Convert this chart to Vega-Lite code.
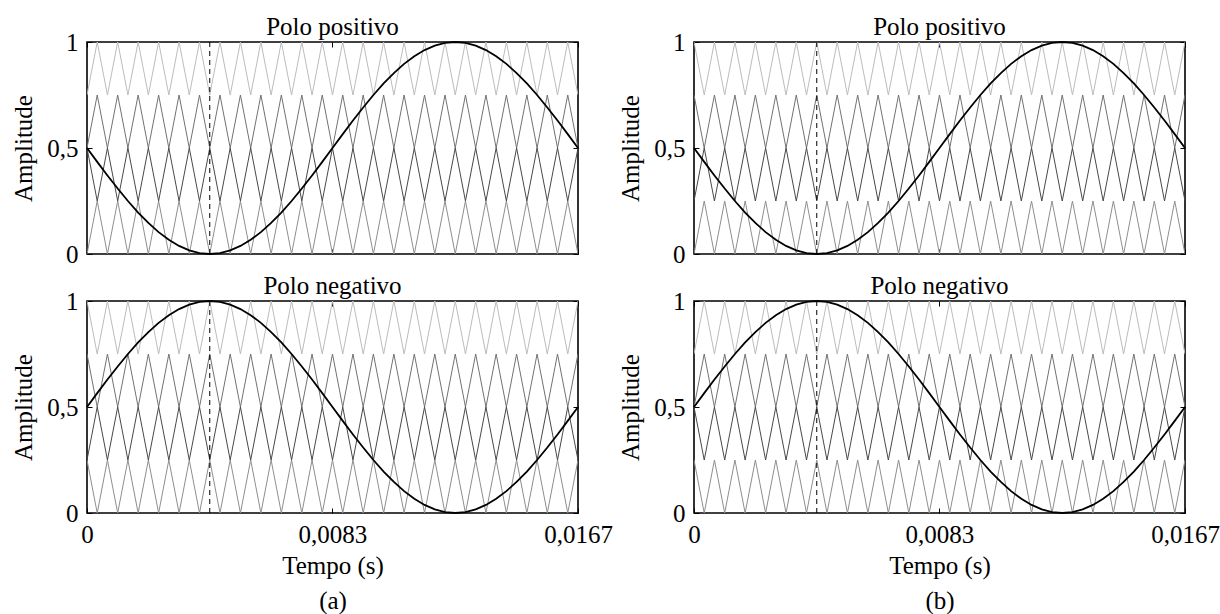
{
"$schema": "https://vega.github.io/schema/vega-lite/v6.json",
"background": "white",
"padding": {"left": 10, "top": 14, "right": 0, "bottom": 0},
"config": {
  "font": "Liberation Serif, Times New Roman, serif",
  "view": {"stroke": "#000", "strokeWidth": 1.6},
  "axis": {"labelFont": "Liberation Serif, Times New Roman, serif", "labelFontSize": 25, "labelColor": "#000", "titleFont": "Liberation Serif, Times New Roman, serif", "titleFontSize": 25, "titleFontWeight": "normal", "titleColor": "#000", "grid": false, "domain": false, "tickColor": "#000", "tickWidth": 1, "tickSize": -5, "labelFlush": false, "labelOverlap": false, "labelPadding": 14},
  "axisY": {"titlePadding": 10},
  "axisX": {"titlePadding": 6, "titleLineHeight": 35},
  "title": {"font": "Liberation Serif, Times New Roman, serif", "fontSize": 25, "fontWeight": "normal", "color": "#000", "offset": -10, "baseline": "alphabetic", "frame": "group"}
},
"datasets": {
"mk": [{"t": 0.004167}],
"ref": [
{"s":"pos","t":0,"y":0.5},{"s":"pos","t":0.000347,"y":0.4347},{"s":"pos","t":0.000694,"y":0.3706},{"s":"pos","t":0.001042,"y":0.3087},{"s":"pos","t":0.001389,"y":0.25},{"s":"pos","t":0.001736,"y":0.1956},{"s":"pos","t":0.002083,"y":0.1464},{"s":"pos","t":0.002431,"y":0.1033},{"s":"pos","t":0.002778,"y":0.067},{"s":"pos","t":0.003125,"y":0.0381},{"s":"pos","t":0.003472,"y":0.017},{"s":"pos","t":0.003819,"y":0.0043},{"s":"pos","t":0.004167,"y":0},{"s":"pos","t":0.004514,"y":0.0043},{"s":"pos","t":0.004861,"y":0.017},{"s":"pos","t":0.005208,"y":0.0381},{"s":"pos","t":0.005556,"y":0.067},{"s":"pos","t":0.005903,"y":0.1033},{"s":"pos","t":0.00625,"y":0.1464},{"s":"pos","t":0.006597,"y":0.1956},{"s":"pos","t":0.006944,"y":0.25},{"s":"pos","t":0.007292,"y":0.3087},{"s":"pos","t":0.007639,"y":0.3706},{"s":"pos","t":0.007986,"y":0.4347},{"s":"pos","t":0.008333,"y":0.5},{"s":"pos","t":0.008681,"y":0.5653},{"s":"pos","t":0.009028,"y":0.6294},{"s":"pos","t":0.009375,"y":0.6913},{"s":"pos","t":0.009722,"y":0.75},{"s":"pos","t":0.010069,"y":0.8044},{"s":"pos","t":0.010417,"y":0.8536},{"s":"pos","t":0.010764,"y":0.8967},{"s":"pos","t":0.011111,"y":0.933},{"s":"pos","t":0.011458,"y":0.9619},{"s":"pos","t":0.011806,"y":0.983},{"s":"pos","t":0.012153,"y":0.9957},{"s":"pos","t":0.0125,"y":1},{"s":"pos","t":0.012847,"y":0.9957},{"s":"pos","t":0.013194,"y":0.983},{"s":"pos","t":0.013542,"y":0.9619},{"s":"pos","t":0.013889,"y":0.933},{"s":"pos","t":0.014236,"y":0.8967},{"s":"pos","t":0.014583,"y":0.8536},{"s":"pos","t":0.014931,"y":0.8044},{"s":"pos","t":0.015278,"y":0.75},{"s":"pos","t":0.015625,"y":0.6913},{"s":"pos","t":0.015972,"y":0.6294},{"s":"pos","t":0.016319,"y":0.5653},{"s":"pos","t":0.016667,"y":0.5},
{"s":"neg","t":0,"y":0.5},{"s":"neg","t":0.000347,"y":0.5653},{"s":"neg","t":0.000694,"y":0.6294},{"s":"neg","t":0.001042,"y":0.6913},{"s":"neg","t":0.001389,"y":0.75},{"s":"neg","t":0.001736,"y":0.8044},{"s":"neg","t":0.002083,"y":0.8536},{"s":"neg","t":0.002431,"y":0.8967},{"s":"neg","t":0.002778,"y":0.933},{"s":"neg","t":0.003125,"y":0.9619},{"s":"neg","t":0.003472,"y":0.983},{"s":"neg","t":0.003819,"y":0.9957},{"s":"neg","t":0.004167,"y":1},{"s":"neg","t":0.004514,"y":0.9957},{"s":"neg","t":0.004861,"y":0.983},{"s":"neg","t":0.005208,"y":0.9619},{"s":"neg","t":0.005556,"y":0.933},{"s":"neg","t":0.005903,"y":0.8967},{"s":"neg","t":0.00625,"y":0.8536},{"s":"neg","t":0.006597,"y":0.8044},{"s":"neg","t":0.006944,"y":0.75},{"s":"neg","t":0.007292,"y":0.6913},{"s":"neg","t":0.007639,"y":0.6294},{"s":"neg","t":0.007986,"y":0.5653},{"s":"neg","t":0.008333,"y":0.5},{"s":"neg","t":0.008681,"y":0.4347},{"s":"neg","t":0.009028,"y":0.3706},{"s":"neg","t":0.009375,"y":0.3087},{"s":"neg","t":0.009722,"y":0.25},{"s":"neg","t":0.010069,"y":0.1956},{"s":"neg","t":0.010417,"y":0.1464},{"s":"neg","t":0.010764,"y":0.1033},{"s":"neg","t":0.011111,"y":0.067},{"s":"neg","t":0.011458,"y":0.0381},{"s":"neg","t":0.011806,"y":0.017},{"s":"neg","t":0.012153,"y":0.0043},{"s":"neg","t":0.0125,"y":0},{"s":"neg","t":0.012847,"y":0.0043},{"s":"neg","t":0.013194,"y":0.017},{"s":"neg","t":0.013542,"y":0.0381},{"s":"neg","t":0.013889,"y":0.067},{"s":"neg","t":0.014236,"y":0.1033},{"s":"neg","t":0.014583,"y":0.1464},{"s":"neg","t":0.014931,"y":0.1956},{"s":"neg","t":0.015278,"y":0.25},{"s":"neg","t":0.015625,"y":0.3087},{"s":"neg","t":0.015972,"y":0.3706},{"s":"neg","t":0.016319,"y":0.4347},{"s":"neg","t":0.016667,"y":0.5}
],
"car": [
{"s":"4o","t":0,"y":0.75},{"s":"4o","t":0.000347,"y":1},{"s":"4o","t":0.000694,"y":0.75},{"s":"4o","t":0.001042,"y":1},{"s":"4o","t":0.001389,"y":0.75},{"s":"4o","t":0.001736,"y":1},{"s":"4o","t":0.002083,"y":0.75},{"s":"4o","t":0.002431,"y":1},{"s":"4o","t":0.002778,"y":0.75},{"s":"4o","t":0.003125,"y":1},{"s":"4o","t":0.003472,"y":0.75},{"s":"4o","t":0.003819,"y":1},{"s":"4o","t":0.004167,"y":0.75},{"s":"4o","t":0.004514,"y":1},{"s":"4o","t":0.004861,"y":0.75},{"s":"4o","t":0.005208,"y":1},{"s":"4o","t":0.005556,"y":0.75},{"s":"4o","t":0.005903,"y":1},{"s":"4o","t":0.00625,"y":0.75},{"s":"4o","t":0.006597,"y":1},{"s":"4o","t":0.006944,"y":0.75},{"s":"4o","t":0.007292,"y":1},{"s":"4o","t":0.007639,"y":0.75},{"s":"4o","t":0.007986,"y":1},{"s":"4o","t":0.008333,"y":0.75},{"s":"4o","t":0.008681,"y":1},{"s":"4o","t":0.009028,"y":0.75},{"s":"4o","t":0.009375,"y":1},{"s":"4o","t":0.009722,"y":0.75},{"s":"4o","t":0.010069,"y":1},{"s":"4o","t":0.010417,"y":0.75},{"s":"4o","t":0.010764,"y":1},{"s":"4o","t":0.011111,"y":0.75},{"s":"4o","t":0.011458,"y":1},{"s":"4o","t":0.011806,"y":0.75},{"s":"4o","t":0.012153,"y":1},{"s":"4o","t":0.0125,"y":0.75},{"s":"4o","t":0.012847,"y":1},{"s":"4o","t":0.013194,"y":0.75},{"s":"4o","t":0.013542,"y":1},{"s":"4o","t":0.013889,"y":0.75},{"s":"4o","t":0.014236,"y":1},{"s":"4o","t":0.014583,"y":0.75},{"s":"4o","t":0.014931,"y":1},{"s":"4o","t":0.015278,"y":0.75},{"s":"4o","t":0.015625,"y":1},{"s":"4o","t":0.015972,"y":0.75},{"s":"4o","t":0.016319,"y":1},{"s":"4o","t":0.016667,"y":0.75},
{"s":"4e","t":0,"y":1},{"s":"4e","t":0.000347,"y":0.75},{"s":"4e","t":0.000694,"y":1},{"s":"4e","t":0.001042,"y":0.75},{"s":"4e","t":0.001389,"y":1},{"s":"4e","t":0.001736,"y":0.75},{"s":"4e","t":0.002083,"y":1},{"s":"4e","t":0.002431,"y":0.75},{"s":"4e","t":0.002778,"y":1},{"s":"4e","t":0.003125,"y":0.75},{"s":"4e","t":0.003472,"y":1},{"s":"4e","t":0.003819,"y":0.75},{"s":"4e","t":0.004167,"y":1},{"s":"4e","t":0.004514,"y":0.75},{"s":"4e","t":0.004861,"y":1},{"s":"4e","t":0.005208,"y":0.75},{"s":"4e","t":0.005556,"y":1},{"s":"4e","t":0.005903,"y":0.75},{"s":"4e","t":0.00625,"y":1},{"s":"4e","t":0.006597,"y":0.75},{"s":"4e","t":0.006944,"y":1},{"s":"4e","t":0.007292,"y":0.75},{"s":"4e","t":0.007639,"y":1},{"s":"4e","t":0.007986,"y":0.75},{"s":"4e","t":0.008333,"y":1},{"s":"4e","t":0.008681,"y":0.75},{"s":"4e","t":0.009028,"y":1},{"s":"4e","t":0.009375,"y":0.75},{"s":"4e","t":0.009722,"y":1},{"s":"4e","t":0.010069,"y":0.75},{"s":"4e","t":0.010417,"y":1},{"s":"4e","t":0.010764,"y":0.75},{"s":"4e","t":0.011111,"y":1},{"s":"4e","t":0.011458,"y":0.75},{"s":"4e","t":0.011806,"y":1},{"s":"4e","t":0.012153,"y":0.75},{"s":"4e","t":0.0125,"y":1},{"s":"4e","t":0.012847,"y":0.75},{"s":"4e","t":0.013194,"y":1},{"s":"4e","t":0.013542,"y":0.75},{"s":"4e","t":0.013889,"y":1},{"s":"4e","t":0.014236,"y":0.75},{"s":"4e","t":0.014583,"y":1},{"s":"4e","t":0.014931,"y":0.75},{"s":"4e","t":0.015278,"y":1},{"s":"4e","t":0.015625,"y":0.75},{"s":"4e","t":0.015972,"y":1},{"s":"4e","t":0.016319,"y":0.75},{"s":"4e","t":0.016667,"y":1},
{"s":"3o","t":0,"y":0.5},{"s":"3o","t":0.000347,"y":0.75},{"s":"3o","t":0.000694,"y":0.5},{"s":"3o","t":0.001042,"y":0.75},{"s":"3o","t":0.001389,"y":0.5},{"s":"3o","t":0.001736,"y":0.75},{"s":"3o","t":0.002083,"y":0.5},{"s":"3o","t":0.002431,"y":0.75},{"s":"3o","t":0.002778,"y":0.5},{"s":"3o","t":0.003125,"y":0.75},{"s":"3o","t":0.003472,"y":0.5},{"s":"3o","t":0.003819,"y":0.75},{"s":"3o","t":0.004167,"y":0.5},{"s":"3o","t":0.004514,"y":0.75},{"s":"3o","t":0.004861,"y":0.5},{"s":"3o","t":0.005208,"y":0.75},{"s":"3o","t":0.005556,"y":0.5},{"s":"3o","t":0.005903,"y":0.75},{"s":"3o","t":0.00625,"y":0.5},{"s":"3o","t":0.006597,"y":0.75},{"s":"3o","t":0.006944,"y":0.5},{"s":"3o","t":0.007292,"y":0.75},{"s":"3o","t":0.007639,"y":0.5},{"s":"3o","t":0.007986,"y":0.75},{"s":"3o","t":0.008333,"y":0.5},{"s":"3o","t":0.008681,"y":0.75},{"s":"3o","t":0.009028,"y":0.5},{"s":"3o","t":0.009375,"y":0.75},{"s":"3o","t":0.009722,"y":0.5},{"s":"3o","t":0.010069,"y":0.75},{"s":"3o","t":0.010417,"y":0.5},{"s":"3o","t":0.010764,"y":0.75},{"s":"3o","t":0.011111,"y":0.5},{"s":"3o","t":0.011458,"y":0.75},{"s":"3o","t":0.011806,"y":0.5},{"s":"3o","t":0.012153,"y":0.75},{"s":"3o","t":0.0125,"y":0.5},{"s":"3o","t":0.012847,"y":0.75},{"s":"3o","t":0.013194,"y":0.5},{"s":"3o","t":0.013542,"y":0.75},{"s":"3o","t":0.013889,"y":0.5},{"s":"3o","t":0.014236,"y":0.75},{"s":"3o","t":0.014583,"y":0.5},{"s":"3o","t":0.014931,"y":0.75},{"s":"3o","t":0.015278,"y":0.5},{"s":"3o","t":0.015625,"y":0.75},{"s":"3o","t":0.015972,"y":0.5},{"s":"3o","t":0.016319,"y":0.75},{"s":"3o","t":0.016667,"y":0.5},
{"s":"3e","t":0,"y":0.75},{"s":"3e","t":0.000347,"y":0.5},{"s":"3e","t":0.000694,"y":0.75},{"s":"3e","t":0.001042,"y":0.5},{"s":"3e","t":0.001389,"y":0.75},{"s":"3e","t":0.001736,"y":0.5},{"s":"3e","t":0.002083,"y":0.75},{"s":"3e","t":0.002431,"y":0.5},{"s":"3e","t":0.002778,"y":0.75},{"s":"3e","t":0.003125,"y":0.5},{"s":"3e","t":0.003472,"y":0.75},{"s":"3e","t":0.003819,"y":0.5},{"s":"3e","t":0.004167,"y":0.75},{"s":"3e","t":0.004514,"y":0.5},{"s":"3e","t":0.004861,"y":0.75},{"s":"3e","t":0.005208,"y":0.5},{"s":"3e","t":0.005556,"y":0.75},{"s":"3e","t":0.005903,"y":0.5},{"s":"3e","t":0.00625,"y":0.75},{"s":"3e","t":0.006597,"y":0.5},{"s":"3e","t":0.006944,"y":0.75},{"s":"3e","t":0.007292,"y":0.5},{"s":"3e","t":0.007639,"y":0.75},{"s":"3e","t":0.007986,"y":0.5},{"s":"3e","t":0.008333,"y":0.75},{"s":"3e","t":0.008681,"y":0.5},{"s":"3e","t":0.009028,"y":0.75},{"s":"3e","t":0.009375,"y":0.5},{"s":"3e","t":0.009722,"y":0.75},{"s":"3e","t":0.010069,"y":0.5},{"s":"3e","t":0.010417,"y":0.75},{"s":"3e","t":0.010764,"y":0.5},{"s":"3e","t":0.011111,"y":0.75},{"s":"3e","t":0.011458,"y":0.5},{"s":"3e","t":0.011806,"y":0.75},{"s":"3e","t":0.012153,"y":0.5},{"s":"3e","t":0.0125,"y":0.75},{"s":"3e","t":0.012847,"y":0.5},{"s":"3e","t":0.013194,"y":0.75},{"s":"3e","t":0.013542,"y":0.5},{"s":"3e","t":0.013889,"y":0.75},{"s":"3e","t":0.014236,"y":0.5},{"s":"3e","t":0.014583,"y":0.75},{"s":"3e","t":0.014931,"y":0.5},{"s":"3e","t":0.015278,"y":0.75},{"s":"3e","t":0.015625,"y":0.5},{"s":"3e","t":0.015972,"y":0.75},{"s":"3e","t":0.016319,"y":0.5},{"s":"3e","t":0.016667,"y":0.75},
{"s":"2o","t":0,"y":0.25},{"s":"2o","t":0.000347,"y":0.5},{"s":"2o","t":0.000694,"y":0.25},{"s":"2o","t":0.001042,"y":0.5},{"s":"2o","t":0.001389,"y":0.25},{"s":"2o","t":0.001736,"y":0.5},{"s":"2o","t":0.002083,"y":0.25},{"s":"2o","t":0.002431,"y":0.5},{"s":"2o","t":0.002778,"y":0.25},{"s":"2o","t":0.003125,"y":0.5},{"s":"2o","t":0.003472,"y":0.25},{"s":"2o","t":0.003819,"y":0.5},{"s":"2o","t":0.004167,"y":0.25},{"s":"2o","t":0.004514,"y":0.5},{"s":"2o","t":0.004861,"y":0.25},{"s":"2o","t":0.005208,"y":0.5},{"s":"2o","t":0.005556,"y":0.25},{"s":"2o","t":0.005903,"y":0.5},{"s":"2o","t":0.00625,"y":0.25},{"s":"2o","t":0.006597,"y":0.5},{"s":"2o","t":0.006944,"y":0.25},{"s":"2o","t":0.007292,"y":0.5},{"s":"2o","t":0.007639,"y":0.25},{"s":"2o","t":0.007986,"y":0.5},{"s":"2o","t":0.008333,"y":0.25},{"s":"2o","t":0.008681,"y":0.5},{"s":"2o","t":0.009028,"y":0.25},{"s":"2o","t":0.009375,"y":0.5},{"s":"2o","t":0.009722,"y":0.25},{"s":"2o","t":0.010069,"y":0.5},{"s":"2o","t":0.010417,"y":0.25},{"s":"2o","t":0.010764,"y":0.5},{"s":"2o","t":0.011111,"y":0.25},{"s":"2o","t":0.011458,"y":0.5},{"s":"2o","t":0.011806,"y":0.25},{"s":"2o","t":0.012153,"y":0.5},{"s":"2o","t":0.0125,"y":0.25},{"s":"2o","t":0.012847,"y":0.5},{"s":"2o","t":0.013194,"y":0.25},{"s":"2o","t":0.013542,"y":0.5},{"s":"2o","t":0.013889,"y":0.25},{"s":"2o","t":0.014236,"y":0.5},{"s":"2o","t":0.014583,"y":0.25},{"s":"2o","t":0.014931,"y":0.5},{"s":"2o","t":0.015278,"y":0.25},{"s":"2o","t":0.015625,"y":0.5},{"s":"2o","t":0.015972,"y":0.25},{"s":"2o","t":0.016319,"y":0.5},{"s":"2o","t":0.016667,"y":0.25},
{"s":"2e","t":0,"y":0.5},{"s":"2e","t":0.000347,"y":0.25},{"s":"2e","t":0.000694,"y":0.5},{"s":"2e","t":0.001042,"y":0.25},{"s":"2e","t":0.001389,"y":0.5},{"s":"2e","t":0.001736,"y":0.25},{"s":"2e","t":0.002083,"y":0.5},{"s":"2e","t":0.002431,"y":0.25},{"s":"2e","t":0.002778,"y":0.5},{"s":"2e","t":0.003125,"y":0.25},{"s":"2e","t":0.003472,"y":0.5},{"s":"2e","t":0.003819,"y":0.25},{"s":"2e","t":0.004167,"y":0.5},{"s":"2e","t":0.004514,"y":0.25},{"s":"2e","t":0.004861,"y":0.5},{"s":"2e","t":0.005208,"y":0.25},{"s":"2e","t":0.005556,"y":0.5},{"s":"2e","t":0.005903,"y":0.25},{"s":"2e","t":0.00625,"y":0.5},{"s":"2e","t":0.006597,"y":0.25},{"s":"2e","t":0.006944,"y":0.5},{"s":"2e","t":0.007292,"y":0.25},{"s":"2e","t":0.007639,"y":0.5},{"s":"2e","t":0.007986,"y":0.25},{"s":"2e","t":0.008333,"y":0.5},{"s":"2e","t":0.008681,"y":0.25},{"s":"2e","t":0.009028,"y":0.5},{"s":"2e","t":0.009375,"y":0.25},{"s":"2e","t":0.009722,"y":0.5},{"s":"2e","t":0.010069,"y":0.25},{"s":"2e","t":0.010417,"y":0.5},{"s":"2e","t":0.010764,"y":0.25},{"s":"2e","t":0.011111,"y":0.5},{"s":"2e","t":0.011458,"y":0.25},{"s":"2e","t":0.011806,"y":0.5},{"s":"2e","t":0.012153,"y":0.25},{"s":"2e","t":0.0125,"y":0.5},{"s":"2e","t":0.012847,"y":0.25},{"s":"2e","t":0.013194,"y":0.5},{"s":"2e","t":0.013542,"y":0.25},{"s":"2e","t":0.013889,"y":0.5},{"s":"2e","t":0.014236,"y":0.25},{"s":"2e","t":0.014583,"y":0.5},{"s":"2e","t":0.014931,"y":0.25},{"s":"2e","t":0.015278,"y":0.5},{"s":"2e","t":0.015625,"y":0.25},{"s":"2e","t":0.015972,"y":0.5},{"s":"2e","t":0.016319,"y":0.25},{"s":"2e","t":0.016667,"y":0.5},
{"s":"1o","t":0,"y":0},{"s":"1o","t":0.000347,"y":0.25},{"s":"1o","t":0.000694,"y":0},{"s":"1o","t":0.001042,"y":0.25},{"s":"1o","t":0.001389,"y":0},{"s":"1o","t":0.001736,"y":0.25},{"s":"1o","t":0.002083,"y":0},{"s":"1o","t":0.002431,"y":0.25},{"s":"1o","t":0.002778,"y":0},{"s":"1o","t":0.003125,"y":0.25},{"s":"1o","t":0.003472,"y":0},{"s":"1o","t":0.003819,"y":0.25},{"s":"1o","t":0.004167,"y":0},{"s":"1o","t":0.004514,"y":0.25},{"s":"1o","t":0.004861,"y":0},{"s":"1o","t":0.005208,"y":0.25},{"s":"1o","t":0.005556,"y":0},{"s":"1o","t":0.005903,"y":0.25},{"s":"1o","t":0.00625,"y":0},{"s":"1o","t":0.006597,"y":0.25},{"s":"1o","t":0.006944,"y":0},{"s":"1o","t":0.007292,"y":0.25},{"s":"1o","t":0.007639,"y":0},{"s":"1o","t":0.007986,"y":0.25},{"s":"1o","t":0.008333,"y":0},{"s":"1o","t":0.008681,"y":0.25},{"s":"1o","t":0.009028,"y":0},{"s":"1o","t":0.009375,"y":0.25},{"s":"1o","t":0.009722,"y":0},{"s":"1o","t":0.010069,"y":0.25},{"s":"1o","t":0.010417,"y":0},{"s":"1o","t":0.010764,"y":0.25},{"s":"1o","t":0.011111,"y":0},{"s":"1o","t":0.011458,"y":0.25},{"s":"1o","t":0.011806,"y":0},{"s":"1o","t":0.012153,"y":0.25},{"s":"1o","t":0.0125,"y":0},{"s":"1o","t":0.012847,"y":0.25},{"s":"1o","t":0.013194,"y":0},{"s":"1o","t":0.013542,"y":0.25},{"s":"1o","t":0.013889,"y":0},{"s":"1o","t":0.014236,"y":0.25},{"s":"1o","t":0.014583,"y":0},{"s":"1o","t":0.014931,"y":0.25},{"s":"1o","t":0.015278,"y":0},{"s":"1o","t":0.015625,"y":0.25},{"s":"1o","t":0.015972,"y":0},{"s":"1o","t":0.016319,"y":0.25},{"s":"1o","t":0.016667,"y":0},
{"s":"1e","t":0,"y":0.25},{"s":"1e","t":0.000347,"y":0},{"s":"1e","t":0.000694,"y":0.25},{"s":"1e","t":0.001042,"y":0},{"s":"1e","t":0.001389,"y":0.25},{"s":"1e","t":0.001736,"y":0},{"s":"1e","t":0.002083,"y":0.25},{"s":"1e","t":0.002431,"y":0},{"s":"1e","t":0.002778,"y":0.25},{"s":"1e","t":0.003125,"y":0},{"s":"1e","t":0.003472,"y":0.25},{"s":"1e","t":0.003819,"y":0},{"s":"1e","t":0.004167,"y":0.25},{"s":"1e","t":0.004514,"y":0},{"s":"1e","t":0.004861,"y":0.25},{"s":"1e","t":0.005208,"y":0},{"s":"1e","t":0.005556,"y":0.25},{"s":"1e","t":0.005903,"y":0},{"s":"1e","t":0.00625,"y":0.25},{"s":"1e","t":0.006597,"y":0},{"s":"1e","t":0.006944,"y":0.25},{"s":"1e","t":0.007292,"y":0},{"s":"1e","t":0.007639,"y":0.25},{"s":"1e","t":0.007986,"y":0},{"s":"1e","t":0.008333,"y":0.25},{"s":"1e","t":0.008681,"y":0},{"s":"1e","t":0.009028,"y":0.25},{"s":"1e","t":0.009375,"y":0},{"s":"1e","t":0.009722,"y":0.25},{"s":"1e","t":0.010069,"y":0},{"s":"1e","t":0.010417,"y":0.25},{"s":"1e","t":0.010764,"y":0},{"s":"1e","t":0.011111,"y":0.25},{"s":"1e","t":0.011458,"y":0},{"s":"1e","t":0.011806,"y":0.25},{"s":"1e","t":0.012153,"y":0},{"s":"1e","t":0.0125,"y":0.25},{"s":"1e","t":0.012847,"y":0},{"s":"1e","t":0.013194,"y":0.25},{"s":"1e","t":0.013542,"y":0},{"s":"1e","t":0.013889,"y":0.25},{"s":"1e","t":0.014236,"y":0},{"s":"1e","t":0.014583,"y":0.25},{"s":"1e","t":0.014931,"y":0},{"s":"1e","t":0.015278,"y":0.25},{"s":"1e","t":0.015625,"y":0},{"s":"1e","t":0.015972,"y":0.25},{"s":"1e","t":0.016319,"y":0},{"s":"1e","t":0.016667,"y":0.25}
]
},
"spacing": 3,
"hconcat": [
{"vconcat": [
 {"width": 491, "height": 212, "title": "Polo positivo", "resolve": {"axis": {"x": "independent", "y": "independent"}},
  "layer": [
   {"data": {"name": "car"}, "transform": [{"filter": {"field": "s", "oneOf": ["4o","3o","2e","1o"]}}],
    "mark": {"type": "line", "strokeWidth": 1, "clip": true},
    "encoding": {
     "x": {"field": "t", "type": "quantitative", "scale": {"domain": [0, 0.016667], "nice": false, "zero": false}, "axis": {"orient": "bottom", "values": [0, 0.008333, 0.016667], "labels": false, "title": null, "minExtent": 0, "maxExtent": 0}},
     "y": {"field": "y", "type": "quantitative", "scale": {"domain": [0, 1], "nice": false}, "axis": {"orient": "left", "values": [0, 0.5, 1], "labelExpr": "datum.value == 0 ? '0' : datum.value == 1 ? '1' : '0,5'", "title": "Amplitude"}},
     "color": {"field": "s", "type": "nominal", "scale": {"domain": ["4o","4e","3o","3e","2o","2e","1o","1e"], "range": ["#bcbcbc","#bcbcbc","#727272","#727272","#484848","#484848","#8e8e8e","#8e8e8e"]}, "legend": null}}},
   {"data": {"name": "mk"}, "mark": {"type": "rule", "color": "#000", "strokeWidth": 1, "strokeDash": [5, 4]},
    "encoding": {"x": {"field": "t", "type": "quantitative", "axis": null}}},
   {"data": {"name": "ref"}, "transform": [{"filter": {"field": "s", "equal": "pos"}}],
    "mark": {"type": "line", "color": "#000", "strokeWidth": 1.8},
    "encoding": {
     "x": {"field": "t", "type": "quantitative", "axis": {"orient": "top", "values": [0, 0.008333, 0.016667], "labels": false, "title": null, "minExtent": 0, "maxExtent": 0}},
     "y": {"field": "y", "type": "quantitative", "axis": {"orient": "right", "values": [0, 0.5, 1], "labels": false, "title": null, "minExtent": 0, "maxExtent": 0}}}}
  ]},
 {"width": 491, "height": 212, "title": "Polo negativo", "resolve": {"axis": {"x": "independent", "y": "independent"}},
  "layer": [
   {"data": {"name": "car"}, "transform": [{"filter": {"field": "s", "oneOf": ["4e","3e","2o","1e"]}}],
    "mark": {"type": "line", "strokeWidth": 1, "clip": true},
    "encoding": {
     "x": {"field": "t", "type": "quantitative", "scale": {"domain": [0, 0.016667], "nice": false, "zero": false}, "axis": {"orient": "bottom", "values": [0, 0.008333, 0.016667], "labelExpr": "datum.value == 0 ? '0' : datum.value < 0.01 ? '0,0083' : '0,0167'", "title": ["Tempo (s)", "(a)"]}},
     "y": {"field": "y", "type": "quantitative", "scale": {"domain": [0, 1], "nice": false}, "axis": {"orient": "left", "values": [0, 0.5, 1], "labelExpr": "datum.value == 0 ? '0' : datum.value == 1 ? '1' : '0,5'", "title": "Amplitude"}},
     "color": {"field": "s", "type": "nominal", "scale": {"domain": ["4o","4e","3o","3e","2o","2e","1o","1e"], "range": ["#bcbcbc","#bcbcbc","#727272","#727272","#484848","#484848","#8e8e8e","#8e8e8e"]}, "legend": null}}},
   {"data": {"name": "mk"}, "mark": {"type": "rule", "color": "#000", "strokeWidth": 1, "strokeDash": [5, 4]},
    "encoding": {"x": {"field": "t", "type": "quantitative", "axis": null}}},
   {"data": {"name": "ref"}, "transform": [{"filter": {"field": "s", "equal": "neg"}}],
    "mark": {"type": "line", "color": "#000", "strokeWidth": 1.8},
    "encoding": {
     "x": {"field": "t", "type": "quantitative", "axis": {"orient": "top", "values": [0, 0.008333, 0.016667], "labels": false, "title": null, "minExtent": 0, "maxExtent": 0}},
     "y": {"field": "y", "type": "quantitative", "axis": {"orient": "right", "values": [0, 0.5, 1], "labels": false, "title": null, "minExtent": 0, "maxExtent": 0}}}}
  ]}
], "spacing": 5},
{"vconcat": [
 {"width": 491, "height": 212, "title": "Polo positivo", "resolve": {"axis": {"x": "independent", "y": "independent"}},
  "layer": [
   {"data": {"name": "car"}, "transform": [{"filter": {"field": "s", "oneOf": ["4e","3e","2o","1o"]}}],
    "mark": {"type": "line", "strokeWidth": 1, "clip": true},
    "encoding": {
     "x": {"field": "t", "type": "quantitative", "scale": {"domain": [0, 0.016667], "nice": false, "zero": false}, "axis": {"orient": "bottom", "values": [0, 0.008333, 0.016667], "labels": false, "title": null, "minExtent": 0, "maxExtent": 0}},
     "y": {"field": "y", "type": "quantitative", "scale": {"domain": [0, 1], "nice": false}, "axis": {"orient": "left", "values": [0, 0.5, 1], "labelExpr": "datum.value == 0 ? '0' : datum.value == 1 ? '1' : '0,5'", "title": "Amplitude"}},
     "color": {"field": "s", "type": "nominal", "scale": {"domain": ["4o","4e","3o","3e","2o","2e","1o","1e"], "range": ["#bcbcbc","#bcbcbc","#727272","#727272","#484848","#484848","#8e8e8e","#8e8e8e"]}, "legend": null}}},
   {"data": {"name": "mk"}, "mark": {"type": "rule", "color": "#000", "strokeWidth": 1, "strokeDash": [5, 4]},
    "encoding": {"x": {"field": "t", "type": "quantitative", "axis": null}}},
   {"data": {"name": "ref"}, "transform": [{"filter": {"field": "s", "equal": "pos"}}],
    "mark": {"type": "line", "color": "#000", "strokeWidth": 1.8},
    "encoding": {
     "x": {"field": "t", "type": "quantitative", "axis": {"orient": "top", "values": [0, 0.008333, 0.016667], "labels": false, "title": null, "minExtent": 0, "maxExtent": 0}},
     "y": {"field": "y", "type": "quantitative", "axis": {"orient": "right", "values": [0, 0.5, 1], "labels": false, "title": null, "minExtent": 0, "maxExtent": 0}}}}
  ]},
 {"width": 491, "height": 212, "title": "Polo negativo", "resolve": {"axis": {"x": "independent", "y": "independent"}},
  "layer": [
   {"data": {"name": "car"}, "transform": [{"filter": {"field": "s", "oneOf": ["4o","3o","2e","1e"]}}],
    "mark": {"type": "line", "strokeWidth": 1, "clip": true},
    "encoding": {
     "x": {"field": "t", "type": "quantitative", "scale": {"domain": [0, 0.016667], "nice": false, "zero": false}, "axis": {"orient": "bottom", "values": [0, 0.008333, 0.016667], "labelExpr": "datum.value == 0 ? '0' : datum.value < 0.01 ? '0,0083' : '0,0167'", "title": ["Tempo (s)", "(b)"]}},
     "y": {"field": "y", "type": "quantitative", "scale": {"domain": [0, 1], "nice": false}, "axis": {"orient": "left", "values": [0, 0.5, 1], "labelExpr": "datum.value == 0 ? '0' : datum.value == 1 ? '1' : '0,5'", "title": "Amplitude"}},
     "color": {"field": "s", "type": "nominal", "scale": {"domain": ["4o","4e","3o","3e","2o","2e","1o","1e"], "range": ["#bcbcbc","#bcbcbc","#727272","#727272","#484848","#484848","#8e8e8e","#8e8e8e"]}, "legend": null}}},
   {"data": {"name": "mk"}, "mark": {"type": "rule", "color": "#000", "strokeWidth": 1, "strokeDash": [5, 4]},
    "encoding": {"x": {"field": "t", "type": "quantitative", "axis": null}}},
   {"data": {"name": "ref"}, "transform": [{"filter": {"field": "s", "equal": "neg"}}],
    "mark": {"type": "line", "color": "#000", "strokeWidth": 1.8},
    "encoding": {
     "x": {"field": "t", "type": "quantitative", "axis": {"orient": "top", "values": [0, 0.008333, 0.016667], "labels": false, "title": null, "minExtent": 0, "maxExtent": 0}},
     "y": {"field": "y", "type": "quantitative", "axis": {"orient": "right", "values": [0, 0.5, 1], "labels": false, "title": null, "minExtent": 0, "maxExtent": 0}}}}
  ]}
], "spacing": 5}
]
}
